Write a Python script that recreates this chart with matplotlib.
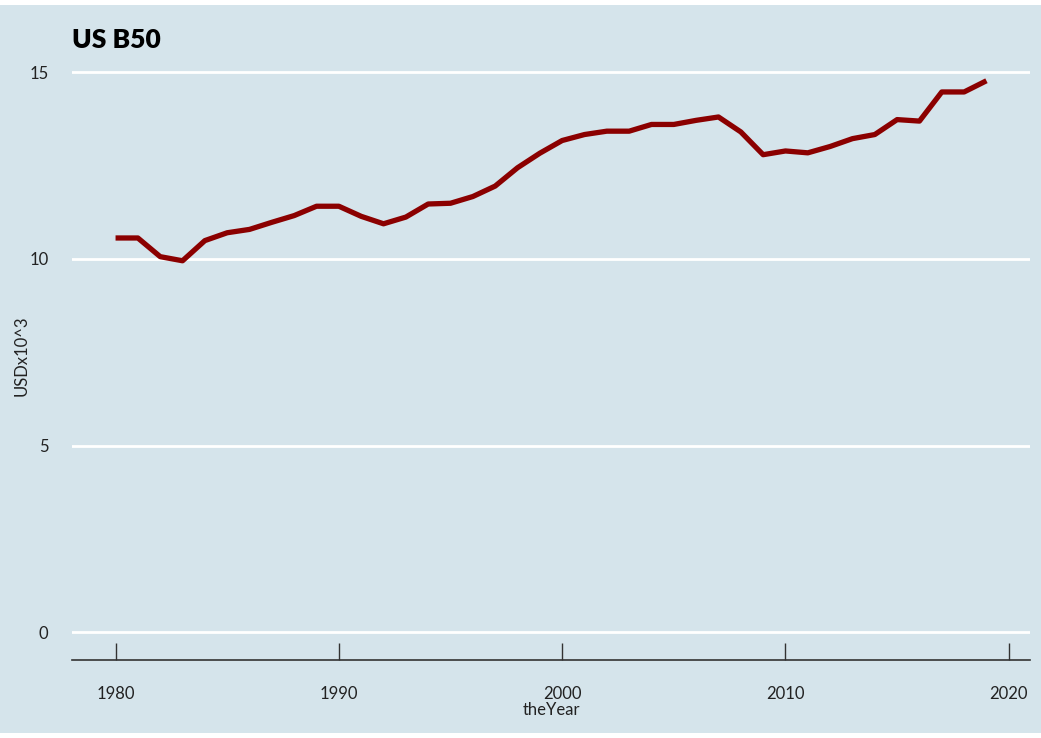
import matplotlib.pyplot as plt
import matplotlib.patches as patches

years = list(range(1980, 2020))
values = [
    10.56, 10.56, 10.06, 9.95, 10.49, 10.70, 10.79, 10.98, 11.16, 11.41,
    11.41, 11.14, 10.94, 11.12, 11.47, 11.49, 11.67, 11.95, 12.44, 12.83,
    13.17, 13.33, 13.42, 13.42, 13.60, 13.60, 13.71, 13.80, 13.40, 12.79,
    12.89, 12.84, 13.01, 13.22, 13.33, 13.73, 13.69, 14.47, 14.47, 14.77,
]
x_ticks = [1980, 1990, 2000, 2010, 2020]
y_ticks = [0, 5, 10, 15]

bg = "#d5e4eb"


def main():
    plt.rcParams["font.family"] = ["Lato", "DejaVu Sans"]

    fig = plt.figure(figsize=(10.41, 7.38), dpi=100)
    fig.patch.set_facecolor(bg)
    # thin white strips at top and bottom
    for y0, h in [(0, 5), (733, 5)]:
        fig.patches.append(patches.Rectangle(
            (0, 1 - (y0 + h) / 738), 1, h / 738, transform=fig.transFigure,
            facecolor="white", edgecolor="none", zorder=-1))

    ax = fig.add_axes([72 / 1041, 1 - 660 / 738, 958 / 1041, 608 / 738])
    ax.set_facecolor(bg)

    ax.plot(years, values, color="#8b0000", linewidth=3.8,
            solid_joinstyle="round", solid_capstyle="butt", zorder=3)

    ax.set_xlim(1978.05, 2020.95)
    ax.set_ylim(-0.74, 15.54)
    ax.set_xticks(x_ticks)
    ax.set_yticks(y_ticks)
    ax.yaxis.grid(True, color="white", linewidth=2)
    ax.set_axisbelow(True)

    for side in ["top", "right", "left"]:
        ax.spines[side].set_visible(False)
    ax.spines["bottom"].set_color("#333333")
    ax.spines["bottom"].set_linewidth(1.2)

    ax.tick_params(axis="x", direction="in", length=12, width=1,
                   color="#333333", pad=19, labelsize=12, labelcolor="#222222")
    ax.tick_params(axis="y", length=0, pad=17, labelsize=12, labelcolor="#222222")

    ax.set_xlabel("theYear", fontsize=12, labelpad=0, color="#222222")
    ax.set_ylabel("USDx10^3", fontsize=12, labelpad=0, color="#222222")

    fig.text(72 / 1041, 1 - 40 / 738, "US B50", fontsize=19,
             fontweight="heavy", va="center", ha="left")

    fig.savefig("out.png", dpi=100, facecolor=fig.get_facecolor())


if __name__ == '__main__':
    main()
